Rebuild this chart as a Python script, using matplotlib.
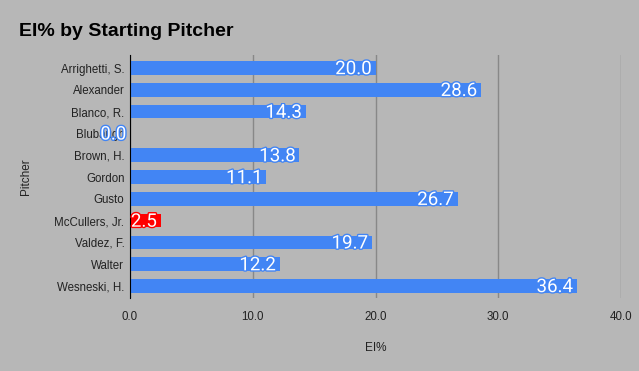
import numpy as np
import matplotlib.pyplot as plt
import matplotlib.patheffects as pe

pitchers = ['Arrighetti, S.', 'Alexander', 'Blanco, R.', 'Blubaugh', 'Brown, H.',
            'Gordon', 'Gusto', 'McCullers, Jr.', 'Valdez, F.', 'Walter', 'Wesneski, H.']
ei_pct = [20.0, 28.6, 14.3, 0.0, 13.8, 11.1, 26.7, 2.5, 19.7, 12.2, 36.4]
bar_colors = ['#4285f4'] * 7 + ['#ff0000'] + ['#4285f4'] * 3

bg = '#b7b7b7'
plt.rcParams['font.family'] = ['Liberation Sans', 'DejaVu Sans']
fig = plt.figure(figsize=(6.39, 3.71), dpi=100, facecolor=bg)
ax = fig.add_axes([130/639, 1-298/371, 491/639, 243/371], facecolor=bg)

y = np.arange(len(pitchers))
ax.barh(y, ei_pct, height=0.62, color=bar_colors, zorder=3)
ax.set_ylim(len(pitchers)-0.45, -0.6)
ax.set_xlim(0, 40)
ax.set_xticks([0, 10, 20, 30, 40])
ax.set_xticklabels(['0.0', '10.0', '20.0', '30.0', '40.0'])
ax.set_yticks(y)
ax.set_yticklabels(pitchers)
ax.tick_params(axis='both', length=0, labelsize=8.3, colors='#222222', pad=4)
ax.tick_params(axis='x', pad=9)
ax.grid(axis='x', color='#888888', linewidth=1, zorder=0)
for s in ['top', 'right', 'bottom']:
    ax.spines[s].set_visible(False)
ax.spines['left'].set_color('black')
ax.spines['left'].set_zorder(4)

for yi, v, c in zip(y, ei_pct, bar_colors):
    ax.text(v - 0.3, yi + 0.05, '{0:.1f}'.format(v), ha='right', va='center', color='white',
            fontsize=13.5, family='Roboto', zorder=5,
            path_effects=[pe.withStroke(linewidth=2, foreground=c)])

ax.set_xlabel('EI%', fontsize=8.5, color='#222222', labelpad=14)
ax.set_ylabel('Pitcher', fontsize=8.5, color='#222222', labelpad=16)
fig.text(19/639, 1-31/371, 'EI% by Starting Pitcher', fontsize=14, fontweight='bold',
         va='center', ha='left')

fig.savefig('out.png', dpi=100, facecolor=bg)
